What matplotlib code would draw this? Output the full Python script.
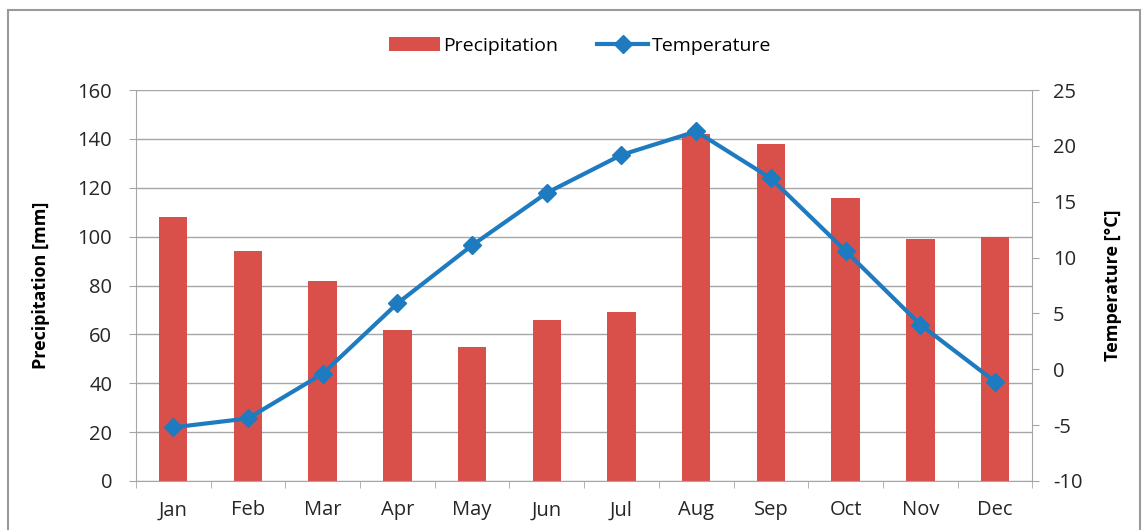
import numpy as np
import matplotlib.pyplot as plt
from matplotlib.patches import Rectangle

plt.rcParams['font.family'] = ['Open Sans', 'DejaVu Sans']
plt.rcParams['axes.unicode_minus'] = False

months = ['Jan', 'Feb', 'Mar', 'Apr', 'May', 'Jun', 'Jul', 'Aug', 'Sep', 'Oct', 'Nov', 'Dec']
precip = [108, 94, 82, 62, 55, 66, 69, 142, 138, 116, 99, 100]
temp = [-5.2, -4.4, -0.4, 5.9, 11.1, 15.8, 19.2, 21.3, 17.1, 10.6, 4.0, -1.1]

bar_color = '#D9504A'
line_color = '#1F7BC0'
grid_color = '#A6A6A6'

fig = plt.figure(figsize=(11.42, 5.30), dpi=100)
fig.patches.append(Rectangle((8 / 1142, -0.01), 1132 / 1142, 1 - 10 / 530 + 0.01,
                             transform=fig.transFigure, fill=False,
                             edgecolor='#9A9A9A', linewidth=1.5))

ax = fig.add_axes([0.119, 0.0925, 0.785, 0.7375])
x = np.arange(len(months))
bars = ax.bar(x, precip, width=0.38, color=bar_color, label='Precipitation', zorder=2)
ax.set_xlim(-0.5, 11.5)
ax.set_ylim(0, 160)
ax.set_yticks(np.arange(0, 161, 20))
ax.yaxis.grid(True, color=grid_color, linewidth=1)
ax.set_axisbelow(True)
ax.set_xticks(x)
ax.set_xticklabels(months)
ax.set_xticks(np.arange(-0.5, 12, 1), minor=True)
ax.tick_params(axis='x', which='major', length=0, labelsize=14.5, pad=14, colors='#262626')
ax.tick_params(axis='x', which='minor', length=5, color=grid_color)
ax.tick_params(axis='y', length=5, color=grid_color, labelsize=14.5, pad=12, labelcolor='#262626')
for s in ['top', 'right']:
    ax.spines[s].set_visible(False)
for s in ['left', 'bottom']:
    ax.spines[s].set_color(grid_color)
ax.set_ylabel('Precipitation [mm]', fontsize=13, fontweight='bold', labelpad=20)

ax2 = ax.twinx()
line, = ax2.plot(x, temp, color=line_color, linewidth=3, marker='D', markersize=9,
                 label='Temperature', zorder=3)
ax2.set_ylim(-10, 25)
ax2.set_yticks(np.arange(-10, 26, 5))
ax2.tick_params(axis='y', length=5, color=grid_color, labelsize=14.5, pad=10, labelcolor='#262626')
for s in ['top', 'left', 'bottom']:
    ax2.spines[s].set_visible(False)
ax2.spines['right'].set_color(grid_color)
ax2.set_ylabel('Temperature [°C]', fontsize=13, fontweight='bold', labelpad=15)

fig.legend([bars, line], ['Precipitation', 'Temperature'], loc='center',
           bbox_to_anchor=(0.508, 0.914), ncol=2, frameon=False, fontsize=14,
           handlelength=2.6, columnspacing=2.0, handletextpad=0.2)

plt.savefig('out.png', dpi=100)
